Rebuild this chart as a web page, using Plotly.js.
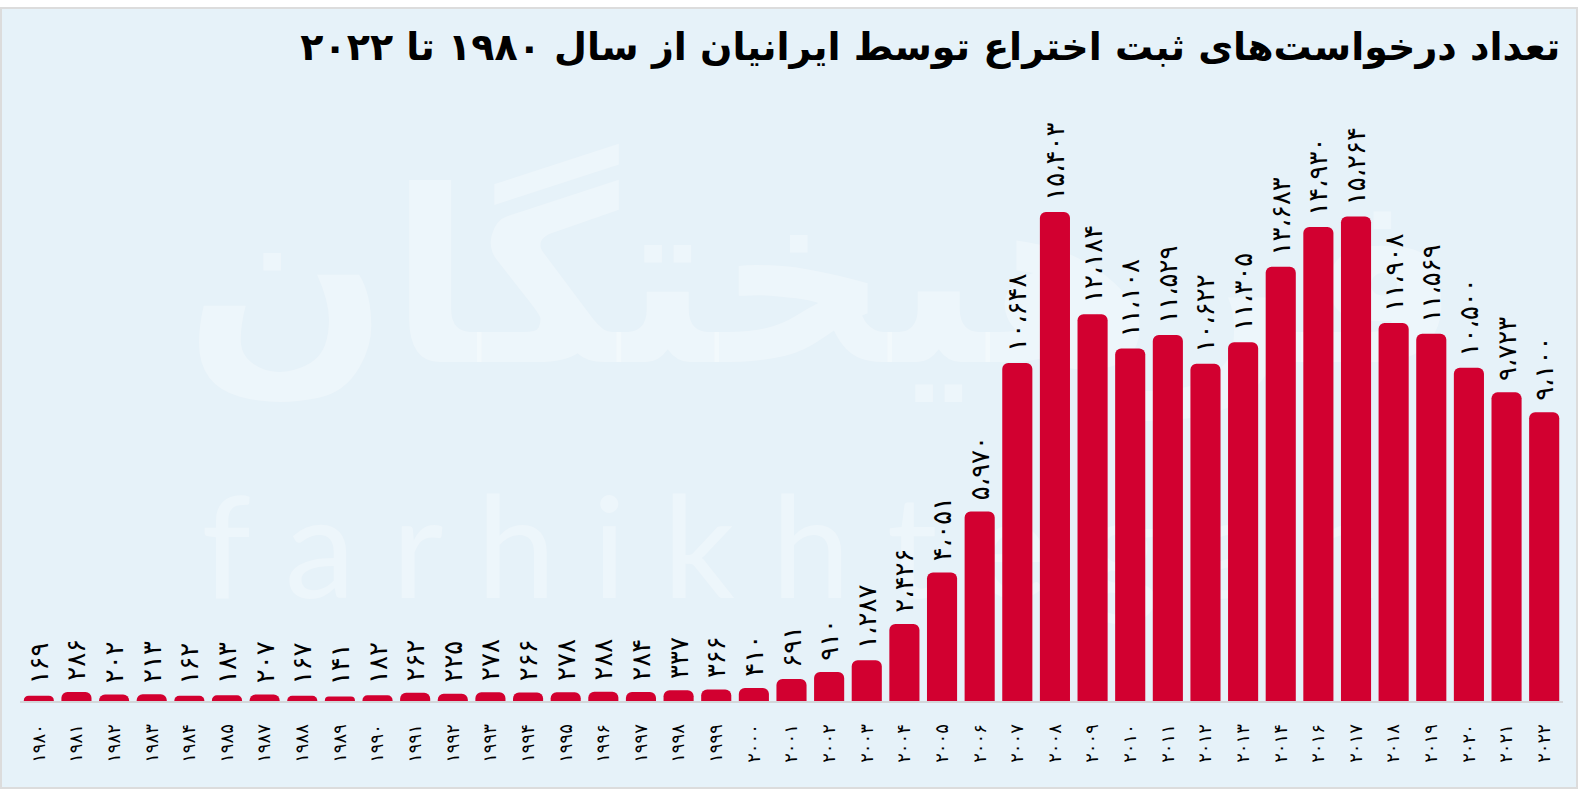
<!DOCTYPE html>
<html>
<head>
<meta charset="utf-8">
<script src="https://cdn.plot.ly/plotly-3.0.1.min.js"></script>
<style>
  html, body { margin: 0; padding: 0; background: #ffffff; }
  #chart {
    position: absolute; left: 0; top: 7px;
    width: 1574px; height: 778px;
    border: 2px solid #dcdcdc;
    background: #e6f2f9;
  }
</style>
</head>
<body>
<div id="chart"></div>
<script>
// Years (categories), as printed on the chart
const years = ['۱۹۸۰','۱۹۸۱','۱۹۸۲','۱۹۸۳','۱۹۸۴','۱۹۸۵','۱۹۸۷','۱۹۸۸','۱۹۸۹','۱۹۹۰',
               '۱۹۹۱','۱۹۹۲','۱۹۹۳','۱۹۹۴','۱۹۹۵','۱۹۹۶','۱۹۹۷','۱۹۹۸','۱۹۹۹','۲۰۰۰',
               '۲۰۰۱','۲۰۰۲','۲۰۰۳','۲۰۰۴','۲۰۰۵','۲۰۰۶','۲۰۰۷','۲۰۰۸','۲۰۰۹','۲۰۱۰',
               '۲۰۱۱','۲۰۱۲','۲۰۱۳','۲۰۱۴','۲۰۱۶','۲۰۱۷','۲۰۱۸','۲۰۱۹','۲۰۲۰','۲۰۲۱','۲۰۲۲'];

// Number of patent applications by Iranians
const applications = [169, 286, 202, 213, 162, 183, 207, 167, 141, 182,
                      262, 225, 278, 266, 278, 288, 284, 337, 366, 410,
                      691, 910, 1287, 2426, 4051, 5970, 10648, 15403, 12184, 11108,
                      11529, 10622, 11305, 13683, 14930, 15264, 11908, 11569, 10500, 9723, 9100];

const titleText = 'تعداد درخواست‌های ثبت اختراع توسط ایرانیان از سال ۱۹۸۰ تا ۲۰۲۲';

const faDigits = '۰۱۲۳۴۵۶۷۸۹';
function toFa(n) {
  const s = String(n).replace(/\B(?=(\d{3})+(?!\d))/g, '،');
  return s.replace(/\d/g, d => faDigits[+d]);
}
const labels = applications.map(v => '\u00a0' + toFa(v));

const trace = {
  type: 'bar',
  x: years,
  y: applications,
  text: labels,
  textposition: 'outside',
  textangle: -90,
  constraintext: 'none',
  cliponaxis: false,
  textfont: { family: 'DejaVu Sans', size: 26, color: '#000000' },
  marker: { color: '#d20030', cornerradius: 6, line: { width: 0 } },
  hoverinfo: 'x+y'
};

const layout = {
  width: 1574,
  height: 778,
  paper_bgcolor: '#e6f2f9',
  plot_bgcolor: '#e6f2f9',
  margin: { l: 18, r: 13, t: 100, b: 86 },
  bargap: 0.2,
  showlegend: false,
  title: {
    text: titleText,
    font: { family: 'DejaVu Sans', size: 38, color: '#000000', weight: 'bold' },
    xref: 'container', x: 0.99, xanchor: 'right',
    yref: 'container', y: 0.952, yanchor: 'middle'
  },
  xaxis: {
    type: 'category',
    tickangle: -90,
    tickfont: { family: 'DejaVu Sans', size: 18, color: '#000000' },
    showline: true, linecolor: '#d3d6d9', linewidth: 2,
    ticks: '', showgrid: false, zeroline: false,
    ticklabelstandoff: 14
  },
  yaxis: {
    range: [0, 18650],
    visible: false,
    showgrid: false, zeroline: false
  },
  shapes: [
    {
      type: 'rect', xref: 'paper', yref: 'paper', layer: 'below',
      x0: 0.1, x1: 0.94, y0: 0.48, y1: 1.0,
      line: { width: 0 }, fillcolor: 'rgba(0,0,0,0)',
      label: { text: 'فرهیختگان', textposition: 'middle center',
               font: { family: 'DejaVu Sans', size: 240, color: 'rgba(255,255,255,0.3)', weight: 'bold' } }
    },
    {
      type: 'rect', xref: 'paper', yref: 'paper', layer: 'below',
      x0: 0.08, x1: 0.92, y0: 0.12, y1: 0.42,
      line: { width: 0 }, fillcolor: 'rgba(0,0,0,0)',
      label: { text: 'f a r h i k h t e g a n', textposition: 'middle center',
               font: { family: 'Lato', size: 142, color: 'rgba(255,255,255,0.3)' } }
    }
  ]
};

Plotly.newPlot('chart', [trace], layout, { displayModeBar: false, responsive: false });
</script>
</body>
</html>
